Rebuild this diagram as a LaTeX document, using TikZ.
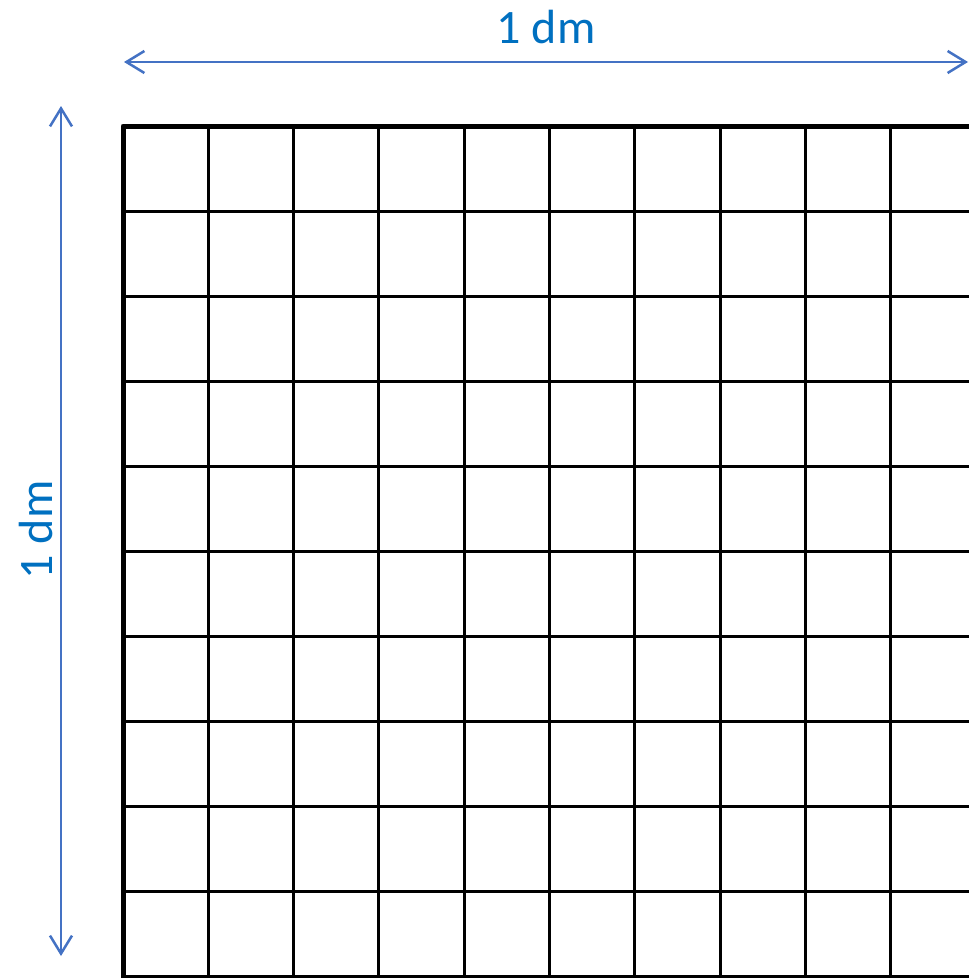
\documentclass[tikz,border=0pt]{standalone}
\usepackage{fontspec}
\setmainfont{Carlito}
\usetikzlibrary{arrows.meta, positioning}
\definecolor{dimblue}{RGB}{68,114,196}
\definecolor{labelblue}{RGB}{0,112,192}

\begin{document}
\begin{tikzpicture}[
    x=1pt, y=-1pt,
    cell/.style={draw=black, line width=3pt},
    border/.style={draw=black, line width=5pt, line join=round},
    dimarrow/.style={draw=dimblue, line width=2.5pt, {Straight Barb[length=18pt, width=22pt, line width=2.5pt]}-{Straight Barb[length=18pt, width=22pt, line width=2.5pt]}},
    dimlabel/.style={text=labelblue, font=\fontsize{48}{56}\selectfont, inner sep=0pt}
]
    \clip (0,0) rectangle (969,978);
    \fill[white] (0,0) rectangle (969,978);

    % Grid
    \foreach \i in {1,...,9} {
        \draw[cell] ({123+85.3*\i},126) -- ({123+85.3*\i},977);
        \draw[cell] (123,{126+85.1*\i}) -- (976,{126+85.1*\i});
    }
    \draw[border] (123,126) rectangle (976,977);

    % Dimension arrows
    \coordinate (topL) at (124,62);
    \coordinate (topR) at (968,62);
    \coordinate (sideT) at (61,106);
    \coordinate (sideB) at (61,956);
    \draw[dimarrow] (topL) -- (topR);
    \draw[dimarrow] (sideT) -- (sideB);

    % Labels
    \node (widthlbl) [dimlabel] at (546,27) {1 dm};
    \node (heightlbl) [dimlabel, rotate=90] at (36,530) {1 dm};
\end{tikzpicture}
\end{document}
